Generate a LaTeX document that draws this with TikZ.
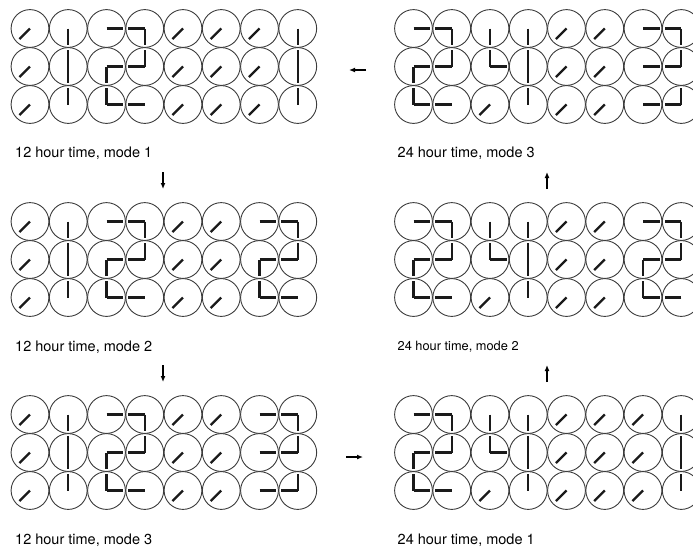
\documentclass[tikz,border=0pt]{standalone}
\usepackage{fontspec}
\setmainfont{TeX Gyre Heros}
\usepackage{xcolor}
\usetikzlibrary{arrows.meta}

\definecolor{facegray}{HTML}{3C3C3C}
\definecolor{handblack}{HTML}{1A1A1A}

% hand directions (y axis runs downwards)
\newcommand{\hN}{-90}
\newcommand{\hS}{90}
\newcommand{\hE}{0}
\newcommand{\hW}{180}
\newcommand{\hD}{135}

\tikzset{
    face/.style={draw=facegray, line width=0.9pt},
    hand/.style={draw=handblack, line width=2.2pt},
    lbl/.style={anchor=west, inner sep=0pt, font=\fontsize{14.5}{17}\selectfont},
    flow/.style={-{Latex[length=6pt, width=5pt]}, line width=1.2pt}
}

% one clock: x, y, angle of hand 1, angle of hand 2
\newcommand{\clk}[4]{%
  \draw[face] (#1,#2) circle[radius=18.9];
  \draw[hand] (#1,#2) -- ++(#3:16.5) (#1,#2) -- ++(#4:16.5);}
% parked clock, both hands to the lower left
\newcommand{\clkd}[2]{%
  \draw[face] (#1,#2) circle[radius=18.9];
  \draw[hand] (#1,#2) -- ++(\hD:15);}

% digits, 2 x 3 clocks: x of left column, y of top row
\newcommand{\digone}[2]{%
  \clkd{#1}{#2}              \clk{#1+38.25}{#2}{\hS}{\hS}
  \clkd{#1}{#2+38}           \clk{#1+38.25}{#2+38}{\hN}{\hS}
  \clkd{#1}{#2+76}           \clk{#1+38.25}{#2+76}{\hN}{\hN}}
\newcommand{\digtwo}[2]{%
  \clk{#1}{#2}{\hE}{\hE}     \clk{#1+38.25}{#2}{\hW}{\hS}
  \clk{#1}{#2+38}{\hE}{\hS}  \clk{#1+38.25}{#2+38}{\hW}{\hN}
  \clk{#1}{#2+76}{\hN}{\hE}  \clk{#1+38.25}{#2+76}{\hW}{\hW}}
\newcommand{\digthree}[2]{%
  \clk{#1}{#2}{\hE}{\hE}     \clk{#1+38.25}{#2}{\hW}{\hS}
  \clk{#1}{#2+38}{\hE}{\hE}  \clk{#1+38.25}{#2+38}{\hW}{\hN}
  \clk{#1}{#2+76}{\hE}{\hE}  \clk{#1+38.25}{#2+76}{\hW}{\hN}}
\newcommand{\digfour}[2]{%
  \clk{#1}{#2}{\hS}{\hS}     \clk{#1+38.25}{#2}{\hS}{\hS}
  \clk{#1}{#2+38}{\hN}{\hE}  \clk{#1+38.25}{#2+38}{\hN}{\hS}
  \clkd{#1}{#2+76}           \clk{#1+38.25}{#2+76}{\hN}{\hN}}
\newcommand{\digblank}[2]{%
  \clkd{#1}{#2}              \clkd{#1+38.25}{#2}
  \clkd{#1}{#2+38}           \clkd{#1+38.25}{#2+38}
  \clkd{#1}{#2+76}           \clkd{#1+38.25}{#2+76}}

\begin{document}
\begin{tikzpicture}[x=1pt, y=-1pt]
\useasboundingbox (0,0) rectangle (693,549);
\clip (0,0) rectangle (693,549);

% 12 hour time, mode 1
\digone{30}{28.5} \digtwo{106.5}{28.5} \digblank{183}{28.5} \digone{259.5}{28.5}
\node[lbl] (mode12a) at (15,153) {12 hour time, mode 1};

% 12 hour time, mode 2
\digone{30}{221.5} \digtwo{106.5}{221.5} \digblank{183}{221.5} \digtwo{259.5}{221.5}
\node[lbl] (mode12b) at (15,347) {12 hour time, mode 2};

% 12 hour time, mode 3
\digone{30}{414.5} \digtwo{106.5}{414.5} \digblank{183}{414.5} \digthree{259.5}{414.5}
\node[lbl] (mode12c) at (15,540) {12 hour time, mode 3};

% 24 hour time, mode 1
\digtwo{413.5}{414.5} \digfour{490}{414.5} \digblank{566.5}{414.5} \digone{643}{414.5}
\node[lbl] (mode24a) at (397.5,540) {24 hour time, mode 1};

% 24 hour time, mode 2
\digtwo{413.5}{221.5} \digfour{490}{221.5} \digblank{566.5}{221.5} \digtwo{643}{221.5}
\node[lbl, font=\fontsize{12.8}{15}\selectfont] (mode24b) at (397.5,347) {24 hour time, mode 2};

% 24 hour time, mode 3
\digtwo{413.5}{28.5} \digfour{490}{28.5} \digblank{566.5}{28.5} \digthree{643}{28.5}
\node[lbl] (mode24c) at (397.5,153) {24 hour time, mode 3};

% Arrows
\coordinate (top0) at (366,70);    \coordinate (top1) at (349,70);
\coordinate (left0) at (163,172);  \coordinate (left1) at (163,189);
\coordinate (left2) at (163,365);  \coordinate (left3) at (163,382);
\coordinate (bot0) at (346,457);   \coordinate (bot1) at (363,457);
\coordinate (right0) at (547,382); \coordinate (right1) at (547,365);
\coordinate (right2) at (547,189); \coordinate (right3) at (547,172);
\draw[flow] (top0) -- (top1);
\draw[flow] (left0) -- (left1);
\draw[flow] (left2) -- (left3);
\draw[flow] (bot0) -- (bot1);
\draw[flow] (right0) -- (right1);
\draw[flow] (right2) -- (right3);

\end{tikzpicture}
\end{document}
